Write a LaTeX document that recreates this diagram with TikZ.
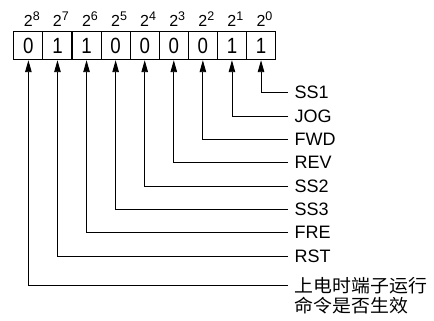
\documentclass[tikz,border=0pt]{standalone}
\usepackage{graphicx}
\usepackage{fontspec}
\setmainfont{Liberation Sans}
\newfontfamily\cjk{Noto Sans CJK SC}
\usetikzlibrary{arrows.meta}
\newcommand{\nx}[1]{\scalebox{0.85}[1]{#1}}
\newcommand{\cx}[1]{\scalebox{1.05}[1]{#1}}
\begin{document}
\begin{tikzpicture}[x=1pt,y=-1pt,
  cell/.style={draw, line width=1.1pt, minimum width=29.08pt, minimum height=28.4pt,
    inner sep=0pt, anchor=north west, font=\fontsize{22}{22}\selectfont},
  pow/.style={anchor=base, inner sep=0pt, font=\fontsize{16}{16}\selectfont},
  lab/.style={anchor=west, inner sep=0pt, font=\fontsize{18}{18}\selectfont},
  clab/.style={anchor=west, inner sep=0pt, font=\fontsize{18}{18}\selectfont\cjk},
  conn/.style={line width=0.9pt, -{Triangle[length=12pt,width=6.5pt]}}
]
\useasboundingbox (0,0) rectangle (434,321);
% cells
\foreach \i/\b/\v in {0/8/0,1/7/1,2/6/1,3/5/0,4/4/0,5/3/0,6/2/0,7/1/1,8/0/1}{
  \node[cell] (c\b) at ({13.3+29.08*\i},30.7) {\nx{\v}};
  \node[pow] (p\b) at ({13.3+29.08*(\i+0.5)+4},26.7) {2\raisebox{5.8pt}{\fontsize{12.5}{12.5}\selectfont\b}};
}
% labels and connectors
\foreach \b/\y/\t in {0/92.3/SS1,1/116/JOG,2/139.3/FWD,3/162.5/REV,4/186/SS2,5/209.2/SS3,6/232.3/FRE,7/256.7/RST}{
  \coordinate (e\b) at (288,\y);
  \node[lab] (l\b) at (294.5,\y) {\t};
  \draw[conn] (e\b) -| (c\b.south);
}
\coordinate (e8) at (288,285.3);
\node[clab] (l8) at (294.5,285.3) {\cx{上电时端子运行}};
\node[clab] (l8b) at (294.5,305.8) {\cx{命令是否生效}};
\draw[conn] (e8) -| (c8.south);
\end{tikzpicture}
\end{document}
